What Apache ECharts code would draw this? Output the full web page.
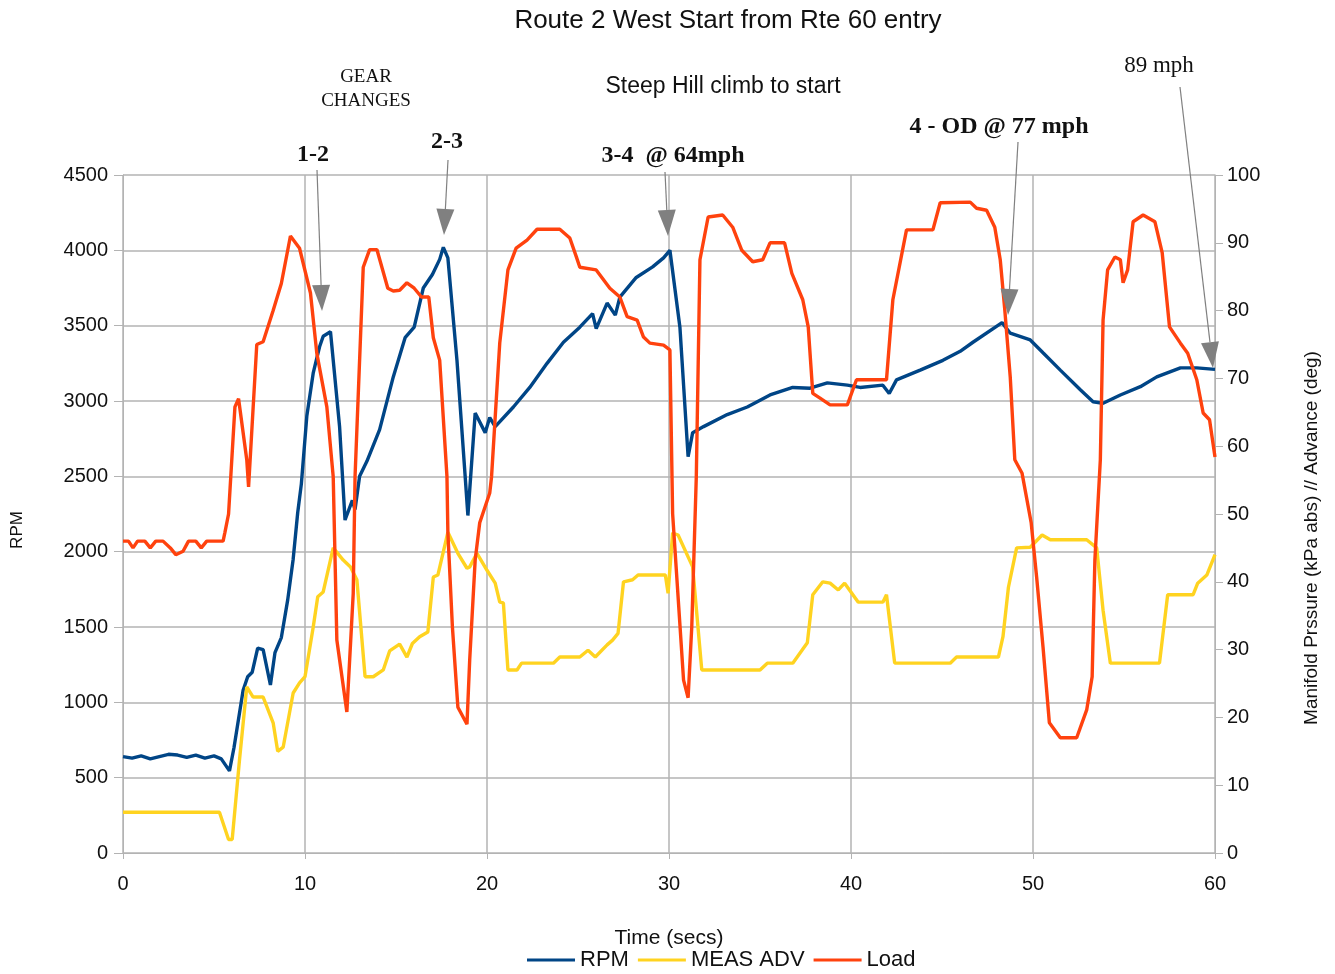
<!DOCTYPE html>
<html><head><meta charset="utf-8">
<script src="https://cdn.jsdelivr.net/npm/echarts@6/dist/echarts.min.js"></script>
<style>html,body{margin:0;padding:0;background:#fff}#c{width:1335px;height:974px}</style>
</head><body><div id="c"></div>
<script>
// ---- data (time in secs, value) ----
const seriesNames = ['RPM', 'MEAS ADV', 'Load'];
const rpm = [[0,640],[0.5,630],[1,645],[1.5,625],[2,640],[2.5,655],[3,650],[3.5,635],[4,650],[4.5,630],[5,645],[5.4,625],[5.85,545],[6.1,700],[6.6,1080],[6.85,1170],[7.1,1200],[7.4,1360],[7.7,1350],[8.1,1115],[8.35,1330],[8.7,1430],[9.05,1680],[9.35,1950],[9.6,2260],[9.8,2450],[10.1,2900],[10.45,3185],[10.8,3360],[11.0,3430],[11.4,3460],[11.9,2830],[12.2,2210],[12.6,2340],[12.75,2280],[13.0,2500],[13.4,2600],[14.1,2810],[14.85,3160],[15.5,3420],[16.0,3490],[16.5,3750],[17.0,3840],[17.4,3940],[17.6,4020],[17.85,3950],[18.35,3270],[18.8,2500],[18.95,2240],[19.35,2920],[19.9,2790],[20.15,2890],[20.45,2830],[21.45,2960],[22.35,3090],[23.3,3250],[24.2,3390],[25.1,3490],[25.8,3580],[26.0,3480],[26.6,3650],[27.05,3570],[27.3,3690],[28.2,3820],[29.1,3890],[29.7,3950],[30.05,4000],[30.6,3490],[31.05,2630],[31.3,2790],[31.9,2830],[33.2,2910],[34.3,2960],[35.55,3040],[36.8,3090],[37.75,3085],[38.7,3120],[39.8,3105],[40.5,3090],[41.75,3105],[42.1,3050],[42.5,3140],[43.8,3205],[45.05,3270],[46.0,3330],[46.7,3390],[48.3,3520],[48.75,3450],[49.85,3405],[50.55,3320],[51.5,3205],[52.6,3075],[53.3,2995],[53.85,2985],[54.8,3040],[55.9,3095],[56.8,3160],[58.1,3220],[59.0,3220],[60.0,3210]];
const advance = [[0,6],[5.3,6],[5.8,2],[6.0,2],[6.4,13.7],[6.8,24.5],[7.15,23],[7.7,23],[8.25,19.2],[8.5,15],[8.8,15.6],[9.35,23.6],[9.7,25.1],[10.0,26],[10.45,33.3],[10.7,37.8],[11.0,38.5],[11.55,45],[12.1,43.2],[12.5,42.2],[12.85,40.3],[13.3,26],[13.75,26],[14.3,27],[14.65,29.8],[15.2,30.8],[15.6,28.9],[15.9,30.9],[16.3,31.9],[16.75,32.6],[17.05,40.7],[17.3,41],[17.85,47.3],[18.4,44.2],[18.9,42],[19.05,42.2],[19.45,44.2],[20.0,41.7],[20.45,39.8],[20.7,37],[20.9,36.9],[21.15,27],[21.65,27],[21.9,28],[23.65,28],[24.0,28.9],[25.1,28.9],[25.55,29.9],[25.95,28.9],[26.6,30.7],[26.9,31.4],[27.2,32.4],[27.5,40],[28.0,40.3],[28.3,41],[29.8,41],[29.95,38.3],[30.2,47.2],[30.5,46.9],[31.3,42.2],[31.8,27],[35.0,27],[35.4,28],[36.8,28],[37.6,31],[37.9,38.1],[38.45,40],[38.85,39.8],[39.3,38.8],[39.65,39.8],[40.4,37],[41.75,37],[41.95,38.1],[42.4,28],[45.45,28],[45.8,28.9],[48.1,28.9],[48.35,31.9],[48.65,39.2],[49.1,45],[49.85,45.1],[50.5,46.9],[50.95,46.2],[52.95,46.2],[53.5,45],[53.85,35.8],[54.25,28],[56.95,28],[57.4,38.1],[58.8,38.1],[59.05,39.8],[59.55,41],[60,44]];
const load = [[0,46],[0.3,46],[0.55,45],[0.8,46],[1.2,46],[1.5,45],[1.8,46],[2.2,46],[2.6,45],[2.9,44],[3.3,44.5],[3.6,46],[4.0,46],[4.3,45],[4.6,46],[5.5,46],[5.6,47.3],[5.8,50],[6.15,65.8],[6.35,67],[6.8,58],[6.9,54],[7.35,75],[7.7,75.4],[8.25,80],[8.7,84],[9.2,91],[9.7,89.2],[10.3,82.6],[10.65,73.7],[11.2,65.8],[11.55,55.5],[11.75,31.4],[12.3,20.8],[12.65,38.3],[12.75,55.5],[13.2,86.4],[13.55,89],[13.95,89],[14.55,83.3],[14.85,82.9],[15.2,83],[15.6,84.1],[16.0,83.3],[16.4,82],[16.8,82],[17.05,76],[17.4,72.7],[17.8,55.5],[17.85,47.3],[18.1,33.3],[18.4,21.5],[18.9,19],[19.05,28.5],[19.35,43.2],[19.6,48.7],[20.15,53.1],[20.25,55.5],[20.7,75.2],[21.15,86],[21.6,89.2],[22.2,90.4],[22.75,92],[24.0,92],[24.55,90.7],[24.9,88],[25.1,86.4],[26.0,86],[26.75,83.3],[27.3,82],[27.7,79.1],[28.25,78.6],[28.6,76.1],[28.95,75.2],[29.7,74.9],[30.05,74.2],[30.2,50],[30.8,25.5],[31.05,22.9],[31.25,33.3],[31.5,55.5],[31.7,87.5],[32.15,93.8],[32.95,94.1],[33.5,92.3],[34.0,88.9],[34.6,87.2],[35.15,87.5],[35.55,90],[36.35,90],[36.75,85.5],[37.35,81.6],[37.65,77.6],[37.9,67.8],[38.3,67.1],[38.85,66.1],[39.8,66.1],[40.3,69.8],[41.95,69.8],[42.3,81.6],[43.05,91.9],[44.5,91.9],[44.9,95.9],[46.55,96],[46.9,95.1],[47.45,94.8],[47.9,92.3],[48.2,87.5],[48.45,80.1],[48.75,70.2],[49.0,58],[49.4,56],[49.9,48.7],[50.2,40.7],[50.55,30.4],[50.9,19.2],[51.5,17],[52.4,17],[52.95,21.1],[53.25,26],[53.4,43.2],[53.7,58],[53.85,78.6],[54.1,86],[54.5,87.9],[54.8,87.5],[54.95,84.1],[55.2,86],[55.5,93.1],[56.05,94.1],[56.7,93.1],[57.1,88.5],[57.5,77.6],[58.1,75.2],[58.5,73.7],[59.0,69.8],[59.35,64.9],[59.7,63.9],[60,58.4]];

const titleText = 'Route 2 West Start from Rte 60 entry';
const xName = 'Time (secs)';
const leftName = 'RPM';
const rightName = 'Manifold Prssure (kPa abs) // Advance (deg)';

const sans = '"Liberation Sans", Arial, sans-serif';
const serif = '"Liberation Serif", "Times New Roman", serif';

// annotation texts
const notes = [
  {text: 'Steep Hill climb to start', x: 723, y: 87, font: '23px ' + sans},
  {text: 'GEAR', x: 366, y: 77, font: '19px ' + serif},
  {text: 'CHANGES', x: 366, y: 101, font: '19px ' + serif},
  {text: '1-2', x: 313, y: 155, font: 'bold 24px ' + serif},
  {text: '2-3', x: 447, y: 142, font: 'bold 24px ' + serif},
  {text: '3-4  @ 64mph', x: 673, y: 156, font: 'bold 24px ' + serif},
  {text: '4 - OD @ 77 mph', x: 999, y: 127, font: 'bold 24px ' + serif},
  {text: '89 mph', x: 1159, y: 66, font: '23px ' + serif}
];
const arrows = [
  {from: [317, 170], to: [322, 311]},
  {from: [448, 160], to: [444, 235]},
  {from: [665, 172], to: [668, 236]},
  {from: [1018, 142], to: [1008, 315]},
  {from: [1180, 87], to: [1213, 368]}
];

const graphics = [];
notes.forEach(n => graphics.push({
  type: 'text', x: n.x, y: n.y, z: 100,
  style: {text: n.text, font: n.font, fill: '#111', textAlign: 'center', textVerticalAlign: 'middle', align: 'center', verticalAlign: 'middle'}
}));
// rotated axis names
graphics.push({type: 'text', x: 17, y: 530, rotation: Math.PI / 2, z: 100,
  style: {text: leftName, font: '17px ' + sans, fill: '#111', textAlign: 'center', textVerticalAlign: 'middle', align: 'center', verticalAlign: 'middle'}});
graphics.push({type: 'text', x: 1312, y: 538, rotation: Math.PI / 2, z: 100,
  style: {text: rightName, font: '19px ' + sans, fill: '#111', textAlign: 'center', textVerticalAlign: 'middle', align: 'center', verticalAlign: 'middle'}});
arrows.forEach(a => {
  const dx = a.to[0] - a.from[0], dy = a.to[1] - a.from[1];
  const len = Math.sqrt(dx*dx + dy*dy);
  const ux = dx/len, uy = dy/len;
  const hl = 26, hw = 9;
  const bx = a.to[0] - ux*hl, by = a.to[1] - uy*hl;
  graphics.push({type: 'line', z: 100, shape: {x1: a.from[0], y1: a.from[1], x2: bx, y2: by}, style: {stroke: '#808080', lineWidth: 1.2}});
  graphics.push({type: 'polygon', z: 100, shape: {points: [[a.to[0], a.to[1]], [bx - uy*hw, by + ux*hw], [bx + uy*hw, by - ux*hw]]}, style: {fill: '#808080'}});
});

const gridColor = '#b3b3b3';
const plain = v => String(v);
const chart = echarts.init(document.getElementById('c'), null, {renderer: 'canvas'});
chart.setOption({
  backgroundColor: '#fff',
  animation: false,
  title: {text: titleText, left: 723, top: 3, textAlign: 'center',
    textStyle: {fontFamily: sans, fontSize: 26, fontWeight: 'normal', color: '#111'}},
  legend: {data: seriesNames, left: 527, top: 949, padding: 0, itemWidth: 48, itemHeight: 3, itemGap: 9,
    icon: 'rect', textStyle: {fontFamily: sans, fontSize: 22, color: '#111'}},
  grid: {left: 123, right: 120, top: 175, bottom: 121, containLabel: false, outerBoundsMode: 'none'},
  xAxis: {type: 'value', min: 0, max: 60, interval: 10, name: xName, nameLocation: 'middle', nameGap: 75,
    nameTextStyle: {fontFamily: sans, fontSize: 21, color: '#111'},
    axisLine: {lineStyle: {color: gridColor}}, axisTick: {show: true, length: 6, lineStyle: {color: gridColor}},
    axisLabel: {fontFamily: sans, fontSize: 20, color: '#111', margin: 21, formatter: plain},
    splitLine: {show: true, lineStyle: {color: gridColor, width: 1.5}}},
  yAxis: [
    {type: 'value', min: 0, max: 4500, interval: 500,
      axisLine: {show: true, lineStyle: {color: gridColor}}, axisTick: {show: true, length: 9, lineStyle: {color: gridColor}},
      axisLabel: {fontFamily: sans, fontSize: 20, color: '#111', margin: 15, formatter: plain},
      splitLine: {show: true, lineStyle: {color: gridColor, width: 1.5}}},
    {type: 'value', min: 0, max: 100, interval: 10,
      axisLine: {show: true, lineStyle: {color: gridColor}}, axisTick: {show: true, length: 8, lineStyle: {color: gridColor}},
      axisLabel: {fontFamily: sans, fontSize: 20, color: '#111', margin: 12, formatter: plain},
      splitLine: {show: false}}
  ],
  series: [
    {name: seriesNames[0], type: 'line', yAxisIndex: 0, data: rpm, symbol: 'none', lineStyle: {color: '#004586', width: 3.4}, itemStyle: {color: '#004586'}},
    {name: seriesNames[1], type: 'line', yAxisIndex: 1, data: advance, symbol: 'none', lineStyle: {color: '#ffd320', width: 3.4}, itemStyle: {color: '#ffd320'}},
    {name: seriesNames[2], type: 'line', yAxisIndex: 1, data: load, symbol: 'none', lineStyle: {color: '#ff420e', width: 3.4}, itemStyle: {color: '#ff420e'}}
  ],
  graphic: graphics
});
</script>
</body></html>
